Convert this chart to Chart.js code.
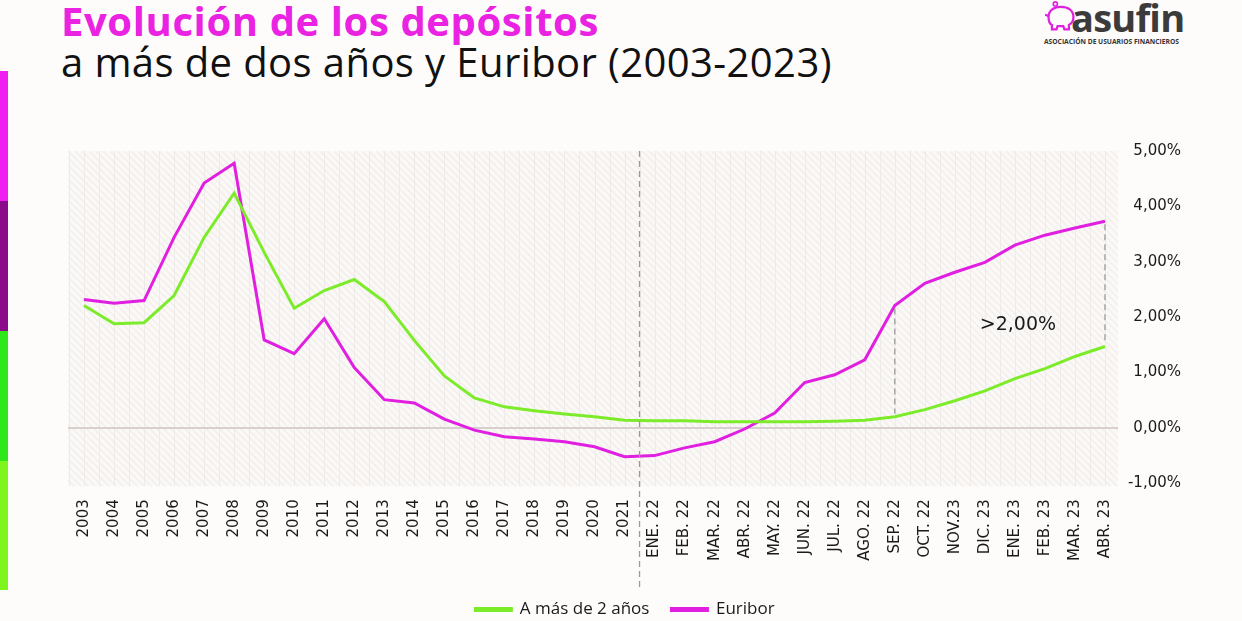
<!DOCTYPE html>
<html lang="es">
<head>
  <meta charset="UTF-8">
  <title>Evolución de los depósitos a más de dos años y Euribor (2003-2023)</title>
  <script src="https://cdn.jsdelivr.net/npm/chart.js"></script>
  <style>
    body { margin: 0; width: 1242px; height: 621px; background: #fdfcfb; font-family: "Open Sans", sans-serif; position: relative; overflow: hidden; }
    .t1 { position: absolute; left: 61px; top: 1px; font-size: 40px; line-height: 40px; font-weight: 700; color: #ea22e2; letter-spacing: 0.6px; white-space: nowrap; }
    .t2 { position: absolute; left: 61px; top: 42px; font-size: 40px; line-height: 40px; font-weight: 400; color: #111; letter-spacing: 0.4px; white-space: nowrap; }
    .bar { position: absolute; left: 0; width: 8px; }
    .logo { position: absolute; left: 1043px; top: 0; width: 145px; height: 50px; }
    .logo .name { position: absolute; left: 28px; top: -2px; font-weight: 700; font-size: 38px; line-height: 38px; color: #3b3b3b; letter-spacing: -0.8px; }
    .logo .sub { position: absolute; left: 1px; top: 37px; font-size: 6.7px; font-weight: 700; color: #333; white-space: nowrap; }
    #wrap { position: absolute; left: 0; top: 130px; width: 1242px; height: 498px; }
  </style>
</head>
<body>

<div class="t1">Evolución de los depósitos</div>
<div class="t2">a más de dos años y Euribor (2003-2023)</div>

<div class="bar" style="top:71px;height:130px;background:#f01ef0"></div>
<div class="bar" style="top:201px;height:130px;background:#8a0c8a"></div>
<div class="bar" style="top:331px;height:130px;background:#2ee81c"></div>
<div class="bar" style="top:461px;height:129px;background:#7ef51c"></div>

<div class="logo">
  <svg width="34" height="32" viewBox="0 0 30 28" style="position:absolute;left:1px;top:1px">
    <path d="M4 14 C4 8 9 5 15 5 C21 5 26 8 26 14 C26 18 24 20 22 21 L22 25 L18 25 L17 22 L12 22 L11 25 L7 25 L7 21 C5 20 4 17 4 14 Z" fill="none" stroke="#e020e0" stroke-width="2"/>
    <circle cx="10" cy="2.5" r="1.8" fill="none" stroke="#e020e0" stroke-width="1.5"/>
    <path d="M1 12 L4 13" stroke="#e020e0" stroke-width="2"/>
  </svg>
  <div class="name">asufin</div>
  <div class="sub">ASOCIACIÓN DE USUARIOS FINANCIEROS</div>
</div>

<div id="wrap"><canvas id="chart"></canvas></div>

<script>
const labels = ['2003','2004','2005','2006','2007','2008','2009','2010','2011','2012','2013','2014','2015','2016','2017','2018','2019','2020','2021',
  'ENE. 22','FEB. 22','MAR. 22','ABR. 22','MAY. 22','JUN. 22','JUL. 22','AGO. 22','SEP. 22','OCT. 22','NOV.23','DIC. 23','ENE. 23','FEB. 23','MAR. 23','ABR. 23'];

const depositos = [2.21, 1.88, 1.90, 2.39, 3.44, 4.24, 3.17, 2.16, 2.48, 2.68, 2.28, 1.58, 0.94, 0.54, 0.38, 0.31, 0.25, 0.20, 0.14,
  0.13, 0.13, 0.11, 0.11, 0.11, 0.11, 0.12, 0.14, 0.20, 0.33, 0.49, 0.67, 0.89, 1.07, 1.29, 1.47];

const euribor = [2.32, 2.25, 2.30, 3.44, 4.42, 4.78, 1.59, 1.34, 1.97, 1.09, 0.51, 0.45, 0.16, -0.04, -0.16, -0.20, -0.25, -0.34, -0.52,
  -0.50, -0.36, -0.25, -0.02, 0.27, 0.82, 0.96, 1.23, 2.21, 2.61, 2.81, 2.99, 3.30, 3.48, 3.61, 3.73];

const yTicks = [5, 4, 3, 2, 1, 0, -1];
const gapLabel = '>2,00%';

const green = '#7cec2a';
const magenta = '#e01fe0';
const tickFont = { family: '"DejaVu Sans", sans-serif', size: 15 };

// hatched background, faint grid, zero line
const backdrop = {
  id: 'backdrop',
  beforeDraw(chart) {
    const { ctx, chartArea: a, scales: { x, y } } = chart;
    ctx.save();
    ctx.beginPath();
    ctx.rect(a.left - 1, a.top, a.right - a.left - 1, a.bottom - a.top + 3);
    ctx.clip();
    ctx.fillStyle = '#fbf9f7';
    ctx.fillRect(a.left - 1, a.top, a.right - a.left, a.bottom - a.top + 3);
    ctx.strokeStyle = '#f3eeea';
    ctx.lineWidth = 1.5;
    for (let k = -400; k < a.right - a.left + 400; k += 7) {
      ctx.beginPath();
      ctx.moveTo(a.left + k, a.top);
      ctx.lineTo(a.left + k + 400, a.top + 400);
      ctx.stroke();
    }
    ctx.strokeStyle = '#efebe8';
    ctx.lineWidth = 1;
    for (let k = 0; k <= labels.length * 2; k++) {
      const px = Math.round(x.getPixelForValue(k / 2 - 0.5)) + 0.5;
      ctx.beginPath();
      ctx.moveTo(px, a.top);
      ctx.lineTo(px, a.bottom + 3);
      ctx.stroke();
    }
    ctx.restore();
    ctx.save();
    const zy = y.getPixelForValue(0);
    ctx.strokeStyle = '#d8d0cf';
    ctx.lineWidth = 2;
    ctx.beginPath();
    ctx.moveTo(a.left - 1, zy);
    ctx.lineTo(a.right - 2, zy);
    ctx.stroke();
    ctx.restore();
  }
};

// dashed markers and annotation
const markers = {
  id: 'markers',
  afterDatasetsDraw(chart) {
    const { ctx, chartArea: a, scales: { x, y } } = chart;
    ctx.save();
    ctx.strokeStyle = '#9a9a9a';
    ctx.lineWidth = 1.3;
    ctx.setLineDash([6, 4]);
    const sx = x.getPixelForValue(18.5);
    ctx.beginPath();
    ctx.moveTo(sx, a.top);
    ctx.lineTo(sx, 460);
    ctx.stroke();
    [27, 34].forEach(i => {
      const px = x.getPixelForValue(i);
      ctx.beginPath();
      ctx.moveTo(px, y.getPixelForValue(euribor[i]) + 3);
      ctx.lineTo(px, y.getPixelForValue(depositos[i]) - 3);
      ctx.stroke();
    });
    ctx.setLineDash([]);
    ctx.fillStyle = '#1a1a1a';
    ctx.font = '19px "DejaVu Sans", sans-serif';
    ctx.textAlign = 'center';
    ctx.textBaseline = 'middle';
    ctx.fillText(gapLabel, x.getPixelForValue(31.1), y.getPixelForValue(1.85));
    ctx.restore();
  }
};

new Chart(document.getElementById('chart'), {
  type: 'line',
  data: {
    labels: labels,
    datasets: [
      { label: 'A más de 2 años', data: depositos, borderColor: green, backgroundColor: green, borderWidth: 3, pointRadius: 0, tension: 0 },
      { label: 'Euribor', data: euribor, borderColor: magenta, backgroundColor: magenta, borderWidth: 3, pointRadius: 0, tension: 0 }
    ]
  },
  options: {
    responsive: true,
    maintainAspectRatio: false,
    animation: false,
    layout: { padding: { left: 69, right: 61, top: 21, bottom: 0 } },
    plugins: {
      legend: {
        position: 'bottom',
        labels: { boxWidth: 36, boxHeight: 2, padding: 22, color: '#1a1a1a', font: { family: '"Open Sans", sans-serif', size: 17 } }
      },
      tooltip: { enabled: false }
    },
    scales: {
      x: {
        offset: true,
        grid: { display: false },
        border: { display: false },
        afterFit: axis => { axis.height += 10; },
        ticks: { minRotation: 90, maxRotation: 90, autoSkip: false, padding: 8, color: '#1a1a1a', font: tickFont }
      },
      y: {
        position: 'right',
        min: -1,
        max: 5,
        afterBuildTicks: axis => { axis.ticks = yTicks.map(v => ({ value: v })); },
        afterFit: axis => { axis.width = 61; },
        grid: { display: false },
        border: { display: false },
        ticks: {
          crossAlign: 'far',
          padding: 10,
          color: '#1a1a1a',
          font: tickFont,
          callback: v => v.toFixed(2).replace('.', ',') + '%'
        }
      }
    }
  },
  plugins: [backdrop, markers]
});
</script>

</body>
</html>
